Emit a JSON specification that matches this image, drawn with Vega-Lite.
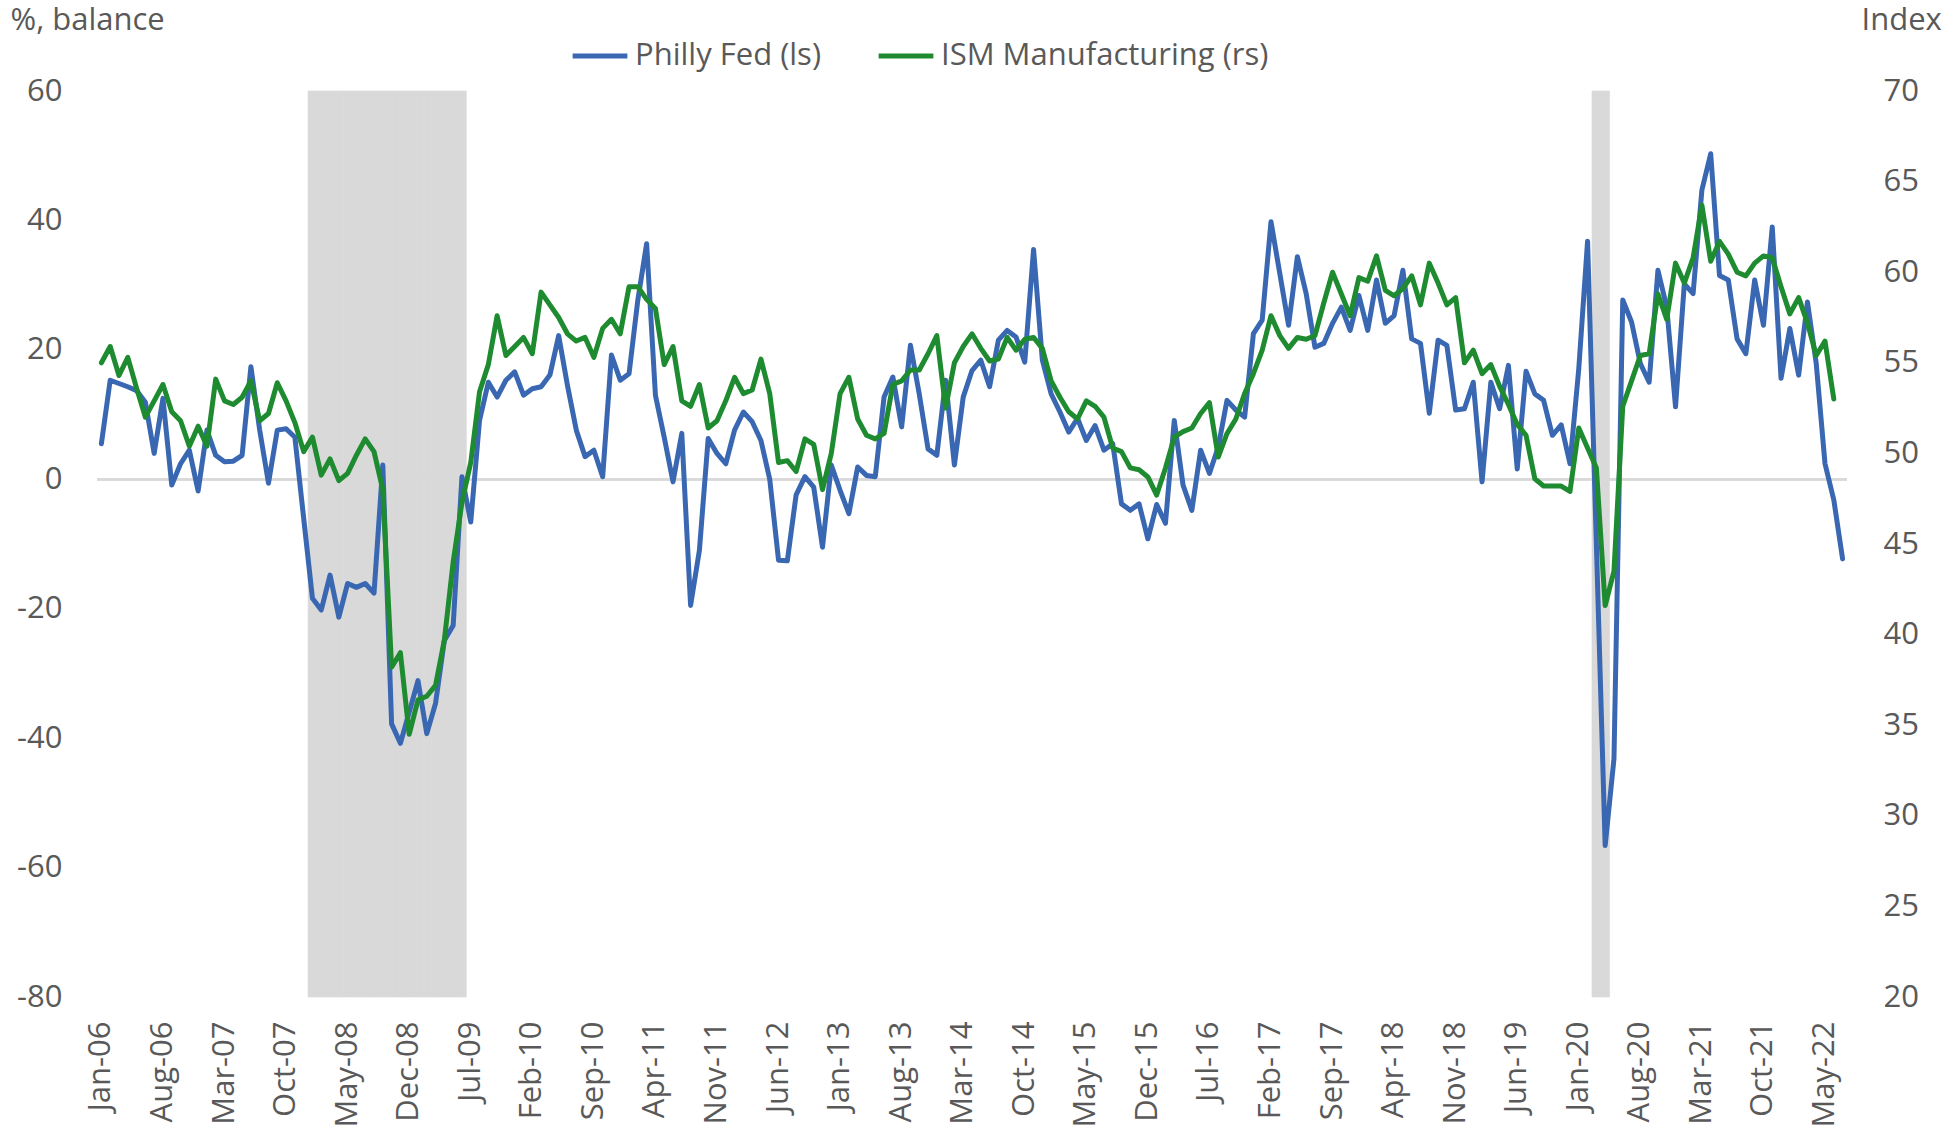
{
  "$schema": "https://vega.github.io/schema/vega-lite/v6.json",
  "autosize": "none",
  "width": 1750,
  "height": 906,
  "padding": {"left": 97, "top": 91, "right": 102, "bottom": 141},
  "background": "white",
  "config": {
    "view": {"stroke": null},
    "axis": {"domain": false, "ticks": false, "tickSize": 0, "grid": false, "labelFont": "Open Sans", "labelFontSize": 31, "labelColor": "#595959", "titleFont": "Open Sans", "titleFontSize": 31, "titleFontWeight": "normal", "titleColor": "#595959"}
  },
  "data": {"values": [
    {"m":"Jan-06","pf":5.5,"ism":55.0,"rec":0},{"m":"Feb-06","pf":15.3,"ism":55.9,"rec":0},{"m":"Mar-06","pf":14.8,"ism":54.3,"rec":0},{"m":"Apr-06","pf":14.3,"ism":55.3,"rec":0},{"m":"May-06","pf":13.7,"ism":53.6,"rec":0},{"m":"Jun-06","pf":11.9,"ism":52.0,"rec":0},{"m":"Jul-06","pf":4.0,"ism":52.9,"rec":0},{"m":"Aug-06","pf":12.5,"ism":53.8,"rec":0},{"m":"Sep-06","pf":-0.9,"ism":52.3,"rec":0},{"m":"Oct-06","pf":2.4,"ism":51.8,"rec":0},{"m":"Nov-06","pf":4.5,"ism":50.4,"rec":0},{"m":"Dec-06","pf":-1.8,"ism":51.5,"rec":0},
    {"m":"Jan-07","pf":7.6,"ism":50.4,"rec":0},{"m":"Feb-07","pf":3.7,"ism":54.1,"rec":0},{"m":"Mar-07","pf":2.7,"ism":52.9,"rec":0},{"m":"Apr-07","pf":2.8,"ism":52.7,"rec":0},{"m":"May-07","pf":3.7,"ism":53.1,"rec":0},{"m":"Jun-07","pf":17.4,"ism":54.0,"rec":0},{"m":"Jul-07","pf":7.6,"ism":51.8,"rec":0},{"m":"Aug-07","pf":-0.6,"ism":52.2,"rec":0},{"m":"Sep-07","pf":7.6,"ism":53.9,"rec":0},{"m":"Oct-07","pf":7.8,"ism":52.9,"rec":0},{"m":"Nov-07","pf":6.5,"ism":51.7,"rec":0},{"m":"Dec-07","pf":-6.0,"ism":50.1,"rec":0},
    {"m":"Jan-08","pf":-18.4,"ism":50.9,"rec":1},{"m":"Feb-08","pf":-20.2,"ism":48.8,"rec":1},{"m":"Mar-08","pf":-14.8,"ism":49.7,"rec":1},{"m":"Apr-08","pf":-21.3,"ism":48.5,"rec":1},{"m":"May-08","pf":-16.1,"ism":48.9,"rec":1},{"m":"Jun-08","pf":-16.7,"ism":49.9,"rec":1},{"m":"Jul-08","pf":-16.1,"ism":50.8,"rec":1},{"m":"Aug-08","pf":-17.6,"ism":50.1,"rec":1},{"m":"Sep-08","pf":2.2,"ism":48.0,"rec":1},{"m":"Oct-08","pf":-37.8,"ism":38.2,"rec":1},{"m":"Nov-08","pf":-40.8,"ism":39.0,"rec":1},{"m":"Dec-08","pf":-36.0,"ism":34.5,"rec":1},
    {"m":"Jan-09","pf":-31.1,"ism":36.4,"rec":1},{"m":"Feb-09","pf":-39.3,"ism":36.6,"rec":1},{"m":"Mar-09","pf":-34.6,"ism":37.2,"rec":1},{"m":"Apr-09","pf":-24.9,"ism":39.7,"rec":1},{"m":"May-09","pf":-22.6,"ism":44.0,"rec":1},{"m":"Jun-09","pf":0.4,"ism":47.3,"rec":1},{"m":"Jul-09","pf":-6.6,"ism":49.5,"rec":0},{"m":"Aug-09","pf":9.1,"ism":53.4,"rec":0},{"m":"Sep-09","pf":15.0,"ism":54.9,"rec":0},{"m":"Oct-09","pf":12.7,"ism":57.6,"rec":0},{"m":"Nov-09","pf":15.3,"ism":55.4,"rec":0},{"m":"Dec-09","pf":16.6,"ism":55.9,"rec":0},
    {"m":"Jan-10","pf":13.0,"ism":56.4,"rec":0},{"m":"Feb-10","pf":14.0,"ism":55.5,"rec":0},{"m":"Mar-10","pf":14.3,"ism":58.9,"rec":0},{"m":"Apr-10","pf":16.1,"ism":58.2,"rec":0},{"m":"May-10","pf":22.2,"ism":57.5,"rec":0},{"m":"Jun-10","pf":14.5,"ism":56.6,"rec":0},{"m":"Jul-10","pf":7.6,"ism":56.2,"rec":0},{"m":"Aug-10","pf":3.5,"ism":56.4,"rec":0},{"m":"Sep-10","pf":4.5,"ism":55.3,"rec":0},{"m":"Oct-10","pf":0.4,"ism":56.9,"rec":0},{"m":"Nov-10","pf":19.2,"ism":57.4,"rec":0},{"m":"Dec-10","pf":15.3,"ism":56.6,"rec":0},
    {"m":"Jan-11","pf":16.3,"ism":59.2,"rec":0},{"m":"Feb-11","pf":27.7,"ism":59.2,"rec":0},{"m":"Mar-11","pf":36.4,"ism":58.5,"rec":0},{"m":"Apr-11","pf":13.0,"ism":58.0,"rec":0},{"m":"May-11","pf":6.5,"ism":54.9,"rec":0},{"m":"Jun-11","pf":-0.4,"ism":55.9,"rec":0},{"m":"Jul-11","pf":7.1,"ism":52.9,"rec":0},{"m":"Aug-11","pf":-19.5,"ism":52.6,"rec":0},{"m":"Sep-11","pf":-11.0,"ism":53.8,"rec":0},{"m":"Oct-11","pf":6.3,"ism":51.4,"rec":0},{"m":"Nov-11","pf":4.0,"ism":51.8,"rec":0},{"m":"Dec-11","pf":2.4,"ism":52.9,"rec":0},
    {"m":"Jan-12","pf":7.6,"ism":54.2,"rec":0},{"m":"Feb-12","pf":10.4,"ism":53.3,"rec":0},{"m":"Mar-12","pf":8.9,"ism":53.5,"rec":0},{"m":"Apr-12","pf":6.0,"ism":55.2,"rec":0},{"m":"May-12","pf":0.0,"ism":53.3,"rec":0},{"m":"Jun-12","pf":-12.5,"ism":49.5,"rec":0},{"m":"Jul-12","pf":-12.6,"ism":49.6,"rec":0},{"m":"Aug-12","pf":-2.4,"ism":49.0,"rec":0},{"m":"Sep-12","pf":0.4,"ism":50.8,"rec":0},{"m":"Oct-12","pf":-1.2,"ism":50.5,"rec":0},{"m":"Nov-12","pf":-10.5,"ism":48.0,"rec":0},{"m":"Dec-12","pf":2.2,"ism":50.0,"rec":0},
    {"m":"Jan-13","pf":-1.7,"ism":53.3,"rec":0},{"m":"Feb-13","pf":-5.3,"ism":54.2,"rec":0},{"m":"Mar-13","pf":1.9,"ism":51.9,"rec":0},{"m":"Apr-13","pf":0.6,"ism":51.0,"rec":0},{"m":"May-13","pf":0.4,"ism":50.8,"rec":0},{"m":"Jun-13","pf":12.7,"ism":51.1,"rec":0},{"m":"Jul-13","pf":15.8,"ism":53.8,"rec":0},{"m":"Aug-13","pf":8.1,"ism":54.0,"rec":0},{"m":"Sep-13","pf":20.7,"ism":54.6,"rec":0},{"m":"Oct-13","pf":13.2,"ism":54.6,"rec":0},{"m":"Nov-13","pf":4.7,"ism":55.5,"rec":0},{"m":"Dec-13","pf":3.7,"ism":56.5,"rec":0},
    {"m":"Jan-14","pf":15.3,"ism":52.5,"rec":0},{"m":"Feb-14","pf":2.2,"ism":55.0,"rec":0},{"m":"Mar-14","pf":12.7,"ism":55.9,"rec":0},{"m":"Apr-14","pf":16.8,"ism":56.6,"rec":0},{"m":"May-14","pf":18.4,"ism":55.8,"rec":0},{"m":"Jun-14","pf":14.3,"ism":55.1,"rec":0},{"m":"Jul-14","pf":21.5,"ism":55.2,"rec":0},{"m":"Aug-14","pf":23.0,"ism":56.4,"rec":0},{"m":"Sep-14","pf":22.0,"ism":55.7,"rec":0},{"m":"Oct-14","pf":18.1,"ism":56.3,"rec":0},{"m":"Nov-14","pf":35.5,"ism":56.4,"rec":0},{"m":"Dec-14","pf":18.4,"ism":55.8,"rec":0},
    {"m":"Jan-15","pf":13.2,"ism":54.0,"rec":0},{"m":"Feb-15","pf":10.4,"ism":53.1,"rec":0},{"m":"Mar-15","pf":7.3,"ism":52.3,"rec":0},{"m":"Apr-15","pf":9.4,"ism":51.9,"rec":0},{"m":"May-15","pf":6.0,"ism":52.9,"rec":0},{"m":"Jun-15","pf":8.3,"ism":52.6,"rec":0},{"m":"Jul-15","pf":4.5,"ism":52.0,"rec":0},{"m":"Aug-15","pf":5.5,"ism":50.3,"rec":0},{"m":"Sep-15","pf":-3.8,"ism":50.1,"rec":0},{"m":"Oct-15","pf":-4.8,"ism":49.2,"rec":0},{"m":"Nov-15","pf":-3.8,"ism":49.1,"rec":0},{"m":"Dec-15","pf":-9.2,"ism":48.7,"rec":0},
    {"m":"Jan-16","pf":-3.9,"ism":47.7,"rec":0},{"m":"Feb-16","pf":-6.8,"ism":49.2,"rec":0},{"m":"Mar-16","pf":9.1,"ism":50.9,"rec":0},{"m":"Apr-16","pf":-0.9,"ism":51.2,"rec":0},{"m":"May-16","pf":-4.8,"ism":51.4,"rec":0},{"m":"Jun-16","pf":4.5,"ism":52.2,"rec":0},{"m":"Jul-16","pf":0.9,"ism":52.8,"rec":0},{"m":"Aug-16","pf":5.0,"ism":49.8,"rec":0},{"m":"Sep-16","pf":12.2,"ism":51.1,"rec":0},{"m":"Oct-16","pf":10.7,"ism":51.9,"rec":0},{"m":"Nov-16","pf":9.6,"ism":53.3,"rec":0},{"m":"Dec-16","pf":22.5,"ism":54.4,"rec":0},
    {"m":"Jan-17","pf":24.6,"ism":55.7,"rec":0},{"m":"Feb-17","pf":39.8,"ism":57.6,"rec":0},{"m":"Mar-17","pf":31.8,"ism":56.5,"rec":0},{"m":"Apr-17","pf":23.8,"ism":55.8,"rec":0},{"m":"May-17","pf":34.4,"ism":56.4,"rec":0},{"m":"Jun-17","pf":28.7,"ism":56.3,"rec":0},{"m":"Jul-17","pf":20.4,"ism":56.5,"rec":0},{"m":"Aug-17","pf":21.0,"ism":58.3,"rec":0},{"m":"Sep-17","pf":24.1,"ism":60.0,"rec":0},{"m":"Oct-17","pf":26.6,"ism":58.8,"rec":0},{"m":"Nov-17","pf":23.0,"ism":57.6,"rec":0},{"m":"Dec-17","pf":28.4,"ism":59.7,"rec":0},
    {"m":"Jan-18","pf":23.0,"ism":59.5,"rec":0},{"m":"Feb-18","pf":30.8,"ism":60.9,"rec":0},{"m":"Mar-18","pf":24.1,"ism":59.0,"rec":0},{"m":"Apr-18","pf":25.3,"ism":58.7,"rec":0},{"m":"May-18","pf":32.3,"ism":59.1,"rec":0},{"m":"Jun-18","pf":21.7,"ism":59.8,"rec":0},{"m":"Jul-18","pf":21.0,"ism":58.2,"rec":0},{"m":"Aug-18","pf":10.2,"ism":60.5,"rec":0},{"m":"Sep-18","pf":21.5,"ism":59.4,"rec":0},{"m":"Oct-18","pf":20.7,"ism":58.2,"rec":0},{"m":"Nov-18","pf":10.7,"ism":58.6,"rec":0},{"m":"Dec-18","pf":10.9,"ism":55.0,"rec":0},
    {"m":"Jan-19","pf":15.0,"ism":55.7,"rec":0},{"m":"Feb-19","pf":-0.4,"ism":54.4,"rec":0},{"m":"Mar-19","pf":15.0,"ism":54.9,"rec":0},{"m":"Apr-19","pf":10.9,"ism":53.7,"rec":0},{"m":"May-19","pf":17.6,"ism":52.7,"rec":0},{"m":"Jun-19","pf":1.6,"ism":51.6,"rec":0},{"m":"Jul-19","pf":16.7,"ism":51.0,"rec":0},{"m":"Aug-19","pf":13.2,"ism":48.6,"rec":0},{"m":"Sep-19","pf":12.2,"ism":48.2,"rec":0},{"m":"Oct-19","pf":6.8,"ism":48.2,"rec":0},{"m":"Nov-19","pf":8.4,"ism":48.2,"rec":0},{"m":"Dec-19","pf":2.4,"ism":47.9,"rec":0},
    {"m":"Jan-20","pf":17.1,"ism":51.4,"rec":0},{"m":"Feb-20","pf":36.8,"ism":50.3,"rec":0},{"m":"Mar-20","pf":-10.0,"ism":49.2,"rec":1},{"m":"Apr-20","pf":-56.6,"ism":41.6,"rec":1},{"m":"May-20","pf":-43.2,"ism":43.5,"rec":0},{"m":"Jun-20","pf":27.7,"ism":52.6,"rec":0},{"m":"Jul-20","pf":24.3,"ism":54.0,"rec":0},{"m":"Aug-20","pf":17.9,"ism":55.4,"rec":0},{"m":"Sep-20","pf":15.0,"ism":55.5,"rec":0},{"m":"Oct-20","pf":32.3,"ism":58.8,"rec":0},{"m":"Nov-20","pf":26.6,"ism":57.4,"rec":0},{"m":"Dec-20","pf":11.2,"ism":60.5,"rec":0},
    {"m":"Jan-21","pf":30.2,"ism":59.4,"rec":0},{"m":"Feb-21","pf":28.7,"ism":60.8,"rec":0},{"m":"Mar-21","pf":44.7,"ism":63.7,"rec":0},{"m":"Apr-21","pf":50.3,"ism":60.6,"rec":0},{"m":"May-21","pf":31.5,"ism":61.7,"rec":0},{"m":"Jun-21","pf":30.8,"ism":61.0,"rec":0},{"m":"Jul-21","pf":21.7,"ism":60.0,"rec":0},{"m":"Aug-21","pf":19.4,"ism":59.8,"rec":0},{"m":"Sep-21","pf":30.8,"ism":60.5,"rec":0},{"m":"Oct-21","pf":23.8,"ism":60.9,"rec":0},{"m":"Nov-21","pf":39.0,"ism":60.8,"rec":0},{"m":"Dec-21","pf":15.6,"ism":59.2,"rec":0},
    {"m":"Jan-22","pf":23.3,"ism":57.7,"rec":0},{"m":"Feb-22","pf":16.1,"ism":58.6,"rec":0},{"m":"Mar-22","pf":27.4,"ism":57.2,"rec":0},{"m":"Apr-22","pf":17.9,"ism":55.4,"rec":0},{"m":"May-22","pf":2.4,"ism":56.2,"rec":0},{"m":"Jun-22","pf":-3.2,"ism":53.0,"rec":0},{"m":"Jul-22","pf":-12.3,"ism":null,"rec":0}
  ]},
  "layer": [
    {
      "layer": [
        {
          "mark": {"type": "bar", "fill": "#D9D9D9", "stroke": "#D9D9D9", "strokeWidth": 0.6},
          "encoding": {
            "x": {"field": "m", "type": "ordinal", "sort": null, "scale": {"type": "band", "paddingInner": 0, "paddingOuter": 0},
                  "axis": {"title": null, "labelAngle": -90, "labelPadding": 24, "values": ["Jan-06","Aug-06","Mar-07","Oct-07","May-08","Dec-08","Jul-09","Feb-10","Sep-10","Apr-11","Nov-11","Jun-12","Jan-13","Aug-13","Mar-14","Oct-14","May-15","Dec-15","Jul-16","Feb-17","Sep-17","Apr-18","Nov-18","Jun-19","Jan-20","Aug-20","Mar-21","Oct-21","May-22"]}},
            "y": {"datum": 60},
            "y2": {"datum": -80},
            "opacity": {"condition": {"test": "datum.rec == 1", "value": 1}, "value": 0}
          }
        },
        {
          "mark": {"type": "rule", "color": "#D9D9D9", "strokeWidth": 2},
          "encoding": {"y": {"datum": 0}}
        },
        {
          "mark": {"type": "line", "strokeWidth": 5, "strokeJoin": "round", "strokeCap": "round"},
          "encoding": {
            "x": {"field": "m", "type": "ordinal", "sort": null, "bandPosition": 0.5, "scale": {"type": "band", "paddingInner": 0, "paddingOuter": 0},
                  "axis": {"title": null, "labelAngle": -90, "labelPadding": 24, "values": ["Jan-06","Aug-06","Mar-07","Oct-07","May-08","Dec-08","Jul-09","Feb-10","Sep-10","Apr-11","Nov-11","Jun-12","Jan-13","Aug-13","Mar-14","Oct-14","May-15","Dec-15","Jul-16","Feb-17","Sep-17","Apr-18","Nov-18","Jun-19","Jan-20","Aug-20","Mar-21","Oct-21","May-22"]}},
            "y": {"field": "pf", "type": "quantitative",
                  "scale": {"domain": [-80, 60], "nice": false, "zero": false},
                  "axis": {"orient": "left", "values": [-80,-60,-40,-20,0,20,40,60], "labelExpr": "'' + datum.value", "labelPadding": 35,
                           "title": "%, balance", "titleAngle": 0, "titleAlign": "left", "titleBaseline": "alphabetic", "titleX": -87, "titleY": -62, "titleLimit": 0}},
            "color": {"datum": "Philly Fed (ls)", "type": "nominal",
                      "scale": {"domain": ["Philly Fed (ls)", "ISM Manufacturing (rs)"], "range": ["#3A67B1", "#1E8B31"]},
                      "legend": {"orient": "none", "legendX": 473, "legendY": -65, "direction": "horizontal", "title": null,
                                 "symbolType": "stroke", "symbolStrokeWidth": 5, "symbolSize": 3000,
                                 "labelFont": "Open Sans", "labelFontSize": 31, "labelColor": "#595959", "labelLimit": 0,
                                 "columnPadding": 46, "labelOffset": 5, "padding": 0}}
          }
        }
      ]
    },
    {
      "mark": {"type": "line", "strokeWidth": 5, "strokeJoin": "round", "strokeCap": "round"},
      "encoding": {
        "x": {"field": "m", "type": "ordinal", "sort": null, "bandPosition": 0.5, "scale": {"type": "band", "paddingInner": 0, "paddingOuter": 0},
              "axis": {"title": null, "labelAngle": -90, "labelPadding": 24, "values": ["Jan-06","Aug-06","Mar-07","Oct-07","May-08","Dec-08","Jul-09","Feb-10","Sep-10","Apr-11","Nov-11","Jun-12","Jan-13","Aug-13","Mar-14","Oct-14","May-15","Dec-15","Jul-16","Feb-17","Sep-17","Apr-18","Nov-18","Jun-19","Jan-20","Aug-20","Mar-21","Oct-21","May-22"]}},
        "y": {"field": "ism", "type": "quantitative",
              "scale": {"domain": [20, 70], "nice": false, "zero": false},
              "axis": {"orient": "right", "values": [20,25,30,35,40,45,50,55,60,65,70], "labelPadding": 36,
                       "title": "Index", "titleAngle": 0, "titleAlign": "left", "titleBaseline": "alphabetic", "titleX": 14, "titleY": -62, "titleLimit": 0}},
        "color": {"datum": "ISM Manufacturing (rs)", "type": "nominal"}
      }
    }
  ],
  "resolve": {"scale": {"y": "independent"}, "axis": {"y": "independent"}}
}
